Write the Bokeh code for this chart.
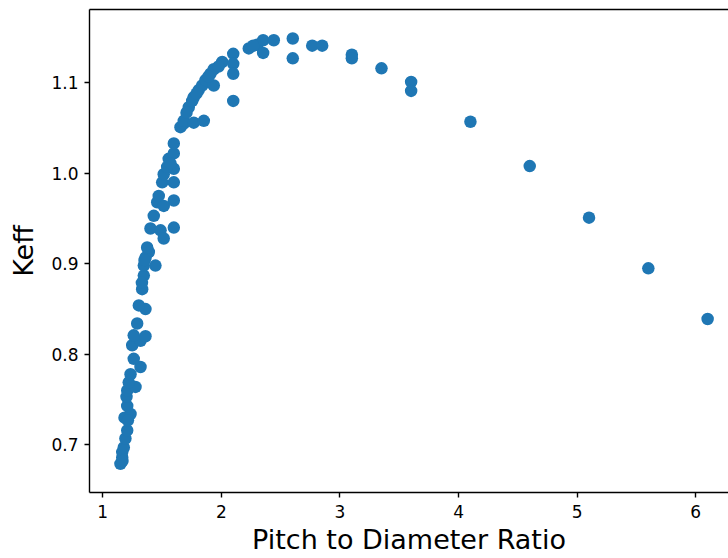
from bokeh.plotting import figure
from bokeh.models import Range1d, LinearAxis, FixedTicker, ColumnDataSource
from bokeh.embed import file_html
from bokeh.resources import INLINE

# Pitch to diameter ratio values (x) and Keff values (y)
pitch_ratio = [
    1.149, 1.164, 1.164, 1.177, 1.191, 1.206, 1.183, 1.234, 1.206, 1.200,
    1.206, 1.276, 1.219, 1.234, 1.318, 1.261, 1.248, 1.318, 1.360, 1.261,
    1.290, 1.360, 1.304, 1.332, 1.346, 1.444, 1.346, 1.388, 1.361, 1.374,
    1.402, 1.487, 1.514, 1.599, 1.430, 1.459, 1.472, 1.599, 1.501, 1.599,
    1.514, 1.556, 1.599, 1.599, 1.599, 1.543, 1.514, 1.571, 1.655, 1.683,
    1.683, 1.767, 1.852, 1.725, 1.767, 1.809, 1.838, 1.866, 1.936, 1.908,
    1.936, 2.007, 2.100, 2.100, 2.100, 2.100, 2.231, 2.302, 2.352, 2.352,
    2.442, 2.602, 2.602, 2.766, 2.850, 1.754, 1.790, 1.891, 2.268, 1.706,
    1.976, 3.10, 3.10, 3.35, 3.60, 3.60, 4.10, 4.60, 5.10, 5.60,
    6.10, 1.166, 1.212, 1.352, 1.330,
]
keff = [
    0.679, 0.686, 0.692, 0.697, 0.707, 0.716, 0.730, 0.734, 0.743, 0.753,
    0.760, 0.764, 0.769, 0.778, 0.786, 0.795, 0.810, 0.815, 0.820, 0.821,
    0.834, 0.850, 0.854, 0.872, 0.887, 0.898, 0.898, 0.913, 0.907, 0.918,
    0.939, 0.937, 0.928, 0.940, 0.953, 0.968, 0.975, 0.970, 0.990, 0.990,
    0.999, 1.016, 1.005, 1.022, 1.033, 1.007, 0.964, 1.011, 1.051, 1.055,
    1.058, 1.056, 1.058, 1.073, 1.084, 1.092, 1.097, 1.103, 1.097, 1.110,
    1.115, 1.123, 1.132, 1.121, 1.110, 1.080, 1.138, 1.142, 1.147, 1.133,
    1.147, 1.149, 1.127, 1.141, 1.141, 1.080, 1.088, 1.107, 1.141, 1.067,
    1.118, 1.131, 1.127, 1.116, 1.101, 1.091, 1.057, 1.008, 0.951, 0.895,
    0.839, 0.682, 0.727, 0.904, 0.879,
]
x_ticks = [1, 2, 3, 4, 5, 6]
y_ticks = [0.7, 0.8, 0.9, 1.0, 1.1]

FONT = "DejaVu Sans"

p = figure(
    width=728, height=558,
    output_backend="svg", toolbar_location=None,
    x_range=Range1d(0.888, 6.276), y_range=Range1d(0.6473, 1.1810),
    min_border_left=89, min_border_right=0, min_border_top=9, min_border_bottom=66,
    background_fill_color="white", border_fill_color="white",
)
p.outline_line_color = None
p.xgrid.visible = False
p.ygrid.visible = False

src = ColumnDataSource(dict(x=pitch_ratio, y=keff))
p.scatter("x", "y", source=src, size=12.5, fill_color="#1f77b4", line_color="#1f77b4", line_width=0)

for ax in (p.xaxis[0], p.yaxis[0]):
    ax.axis_line_color = "black"
    ax.axis_line_width = 1.4
    ax.major_tick_line_color = "black"
    ax.major_tick_line_width = 1.4
    ax.major_tick_out = 5
    ax.major_tick_in = 0
    ax.minor_tick_line_color = None
    ax.major_label_text_font = FONT
    ax.major_label_text_font_size = "17px"
    ax.major_label_text_color = "black"
    ax.axis_label_text_font = FONT
    ax.axis_label_text_font_size = "27px"
    ax.axis_label_text_font_style = "normal"
    ax.axis_label_text_color = "black"

p.xaxis[0].ticker = FixedTicker(ticks=x_ticks)
p.yaxis[0].ticker = FixedTicker(ticks=y_ticks)
p.xaxis[0].major_label_overrides = {t: str(t) for t in x_ticks}
p.yaxis[0].major_label_overrides = {t: f"{t:.1f}" for t in y_ticks}
p.xaxis[0].axis_label = "Pitch to Diameter Ratio"
p.yaxis[0].axis_label = "Keff"
p.xaxis[0].major_label_standoff = 7
p.xaxis[0].axis_label_standoff = 3
p.yaxis[0].major_label_standoff = 6
p.yaxis[0].axis_label_standoff = 9

top = LinearAxis(ticker=FixedTicker(ticks=[]), axis_line_color="black", axis_line_width=1.4,
                 major_tick_out=0, major_tick_in=0, minor_tick_line_color=None,
                 major_label_text_font_size="0px", major_label_standoff=0)
p.add_layout(top, "above")

open("out.html", "w").write(file_html(p, INLINE))
